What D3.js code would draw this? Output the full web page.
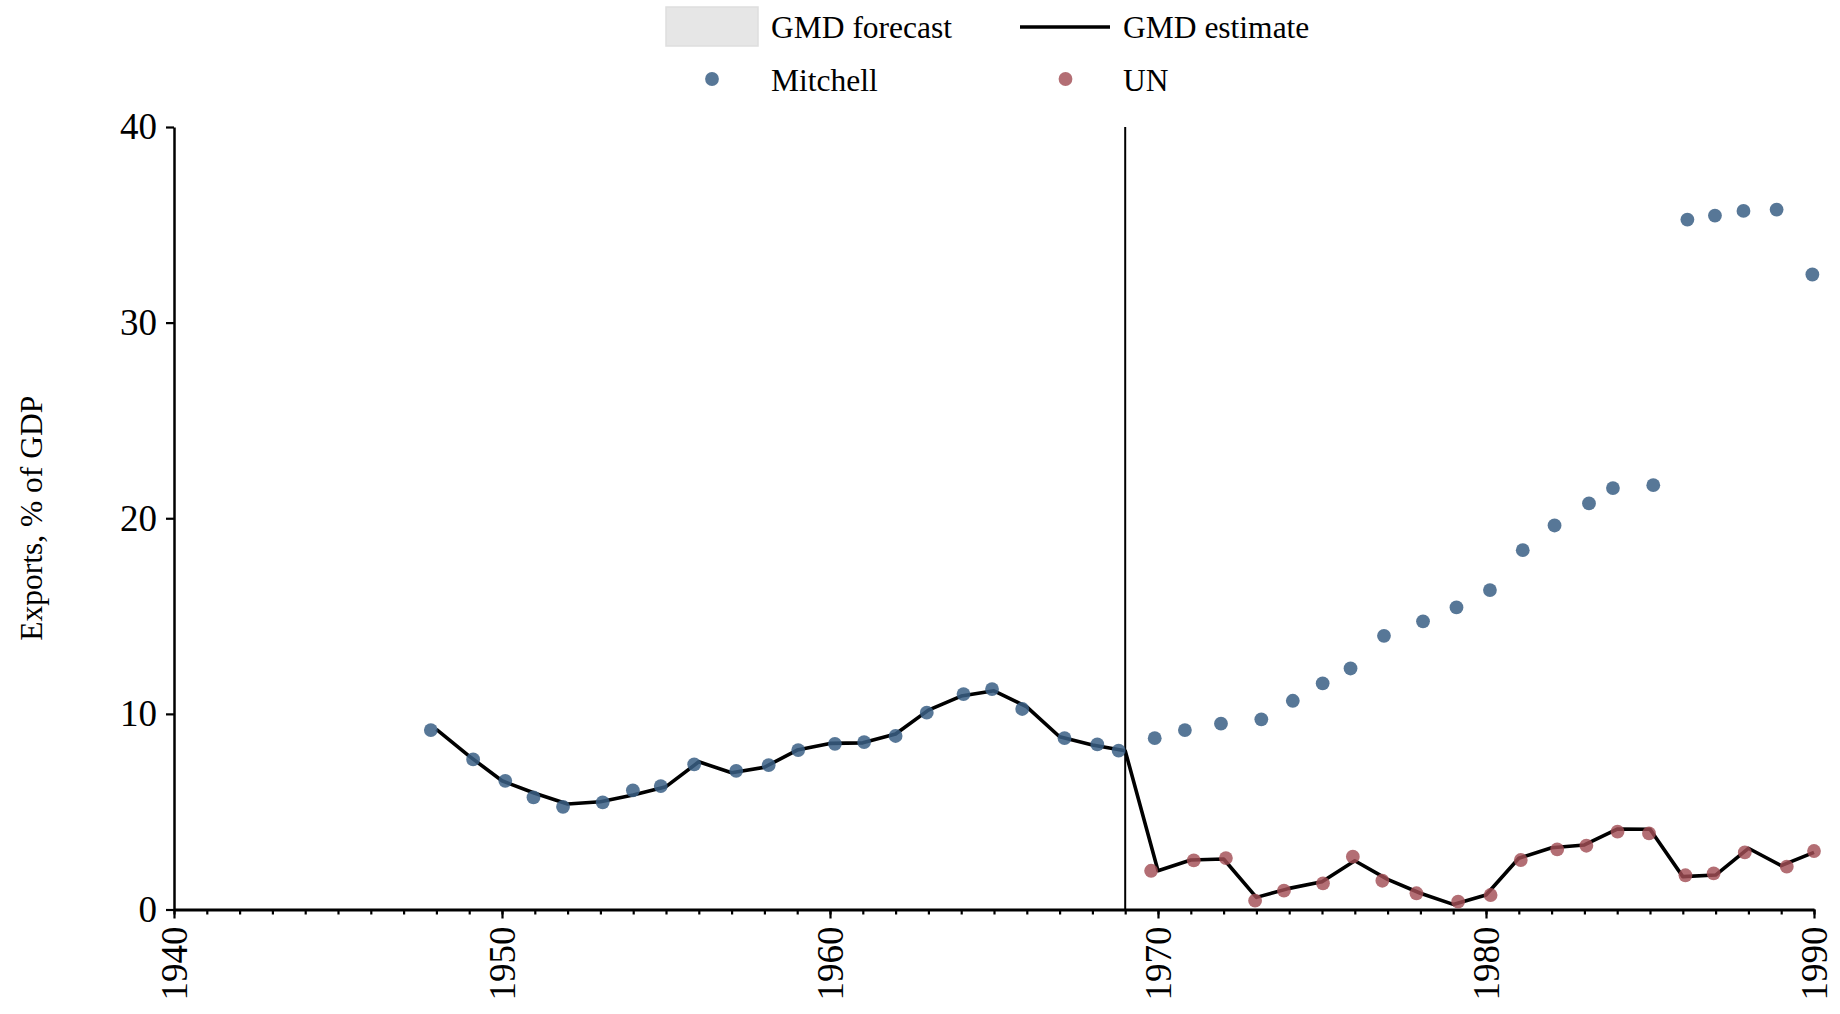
<!DOCTYPE html>
<html>
<head>
<meta charset="utf-8">
<script src="https://cdn.jsdelivr.net/npm/d3@7"></script>
<style>
  html, body { margin: 0; padding: 0; background: #fff; }
  svg { display: block; font-family: "Liberation Serif", "Times New Roman", serif; }
</style>
</head>
<body>
<svg id="chart" width="1840" height="1014"></svg>
<script>
// ---- Data ----
const estimateYears = [1948,1949,1950,1951,1952,1953,1954,1955,1956,1957,1958,1959,1960,1961,1962,1963,1964,1965,1966,1967,1968,1969,1970,1971,1972,1973,1974,1975,1976,1977,1978,1979,1980,1981,1982,1983,1984,1985,1986,1987,1988,1989,1990];
const gmdEstimate = [9.21,7.84,6.58,5.94,5.39,5.51,5.85,6.28,7.55,6.99,7.27,8.15,8.49,8.52,8.97,10.19,10.91,11.18,10.36,8.83,8.41,8.12,1.98,2.53,2.58,0.62,1.08,1.42,2.49,1.54,0.83,0.26,0.74,2.62,3.16,3.30,4.11,4.10,1.68,1.76,3.13,2.24,2.92];

const mitchellYears = [1947.83,1949.12,1950.10,1950.96,1951.86,1953.07,1953.99,1954.84,1955.86,1957.14,1958.13,1959.03,1960.15,1961.04,1962.00,1962.95,1964.07,1964.94,1965.86,1967.15,1968.15,1968.80,1969.90,1970.82,1971.92,1973.15,1974.11,1975.02,1975.87,1976.89,1978.08,1979.10,1980.12,1981.12,1982.09,1983.14,1983.87,1985.10,1986.14,1986.98,1987.85,1988.86,1989.95];
const mitchellValues = [9.17,7.67,6.58,5.73,5.25,5.48,6.09,6.31,7.42,7.09,7.38,8.15,8.47,8.56,8.87,10.06,11.01,11.27,10.25,8.76,8.44,8.12,8.76,9.17,9.50,9.72,10.67,11.56,12.32,13.99,14.73,15.44,16.33,18.37,19.63,20.76,21.54,21.69,35.27,35.47,35.71,35.78,32.46];

const unYears = [1969.79,1971.09,1972.07,1972.96,1973.84,1975.03,1975.94,1976.84,1977.88,1979.15,1980.14,1981.06,1982.17,1983.06,1984.01,1984.97,1986.08,1986.94,1987.89,1989.17,1990.00];
const unValues = [1.98,2.51,2.63,0.45,0.96,1.34,2.70,1.47,0.83,0.40,0.74,2.53,3.07,3.26,3.98,3.89,1.75,1.85,2.92,2.19,2.99];

const xTickValues = [1940,1950,1960,1970,1980,1990];
const xMinorTicks = [1940,1941,1942,1943,1944,1945,1946,1947,1948,1949,1950,1951,1952,1953,1954,1955,1956,1957,1958,1959,1960,1961,1962,1963,1964,1965,1966,1967,1968,1969,1970,1971,1972,1973,1974,1975,1976,1977,1978,1979,1980,1981,1982,1983,1984,1985,1986,1987,1988,1989,1990];
const yTickValues = [0,10,20,30,40];
const markerYear = 1969;
const legendLabels = ["GMD forecast","GMD estimate","Mitchell","UN"];
const yTitle = "Exports, % of GDP";

// ---- Styles ----
const blue = "rgb(58,95,133)";
const red = "rgb(162,78,86)";
const dotR = 6.9;

const svg = d3.select("#chart");
const x = d3.scaleLinear().domain([1940, 1990]).range([174, 1814]);
const y = d3.scaleLinear().domain([0, 40]).range([909.5, 127]);

// Y axis
const yAxis = svg.append("g")
  .attr("transform", `translate(${x(1940)},0)`)
  .call(d3.axisLeft(y).tickValues(yTickValues).tickSize(8).tickSizeOuter(0).tickPadding(9));
yAxis.select(".domain").attr("stroke", "#000").attr("stroke-width", 2.5);
yAxis.selectAll(".tick line").attr("stroke", "#000").attr("stroke-width", 2.2);
yAxis.selectAll(".tick text").attr("font-size", 37).attr("fill", "#000")
  .attr("font-family", "Liberation Serif");

// X axis minor ticks
const xMinor = svg.append("g")
  .attr("transform", `translate(0,${y(0)})`)
  .call(d3.axisBottom(x).tickValues(xMinorTicks).tickSize(5).tickSizeOuter(0).tickFormat(""));
xMinor.select(".domain").attr("stroke", "#000").attr("stroke-width", 2.8);
xMinor.selectAll(".tick line").attr("stroke", "#000").attr("stroke-width", 2.2);

// X axis major ticks
const xAxis = svg.append("g")
  .attr("transform", `translate(0,${y(0)})`)
  .call(d3.axisBottom(x).tickValues(xTickValues).tickSize(9).tickSizeOuter(0).tickFormat(d3.format("d")));
xAxis.select(".domain").remove();
xAxis.selectAll(".tick line").attr("stroke", "#000").attr("stroke-width", 2.2);
xAxis.selectAll(".tick text")
  .attr("font-size", 37).attr("fill", "#000").attr("font-family", "Liberation Serif")
  .attr("transform", "rotate(-90)")
  .attr("x", -17).attr("y", 0).attr("dy", "0.33em")
  .style("text-anchor", "end");

// Y axis title
svg.append("text")
  .attr("transform", `translate(42,${(y(0) + y(40)) / 2}) rotate(-90)`)
  .attr("text-anchor", "middle")
  .attr("font-size", 31.5)
  .attr("fill", "#000")
  .text(yTitle);

// Vertical marker line
svg.append("line")
  .attr("x1", x(markerYear)).attr("x2", x(markerYear))
  .attr("y1", y(0)).attr("y2", y(40))
  .attr("stroke", "#000").attr("stroke-width", 2);

// GMD estimate line
const estData = estimateYears.map((yr, i) => ({ yr, v: gmdEstimate[i] }));
svg.append("path")
  .datum(estData)
  .attr("fill", "none")
  .attr("stroke", "#000")
  .attr("stroke-width", 3.6)
  .attr("stroke-linejoin", "round")
  .attr("d", d3.line().x(d => x(d.yr)).y(d => y(d.v)));

// Mitchell dots
svg.append("g").selectAll("circle")
  .data(mitchellYears.map((yr, i) => ({ yr, v: mitchellValues[i] })))
  .join("circle")
  .attr("cx", d => x(d.yr)).attr("cy", d => y(d.v))
  .attr("r", dotR)
  .attr("fill", blue).attr("fill-opacity", 0.85);

// UN dots
svg.append("g").selectAll("circle")
  .data(unYears.map((yr, i) => ({ yr, v: unValues[i] })))
  .join("circle")
  .attr("cx", d => x(d.yr)).attr("cy", d => y(d.v))
  .attr("r", dotR)
  .attr("fill", red).attr("fill-opacity", 0.82);

// Legend
const leg = svg.append("g").attr("font-size", 31.5).attr("fill", "#000");
leg.append("rect").attr("x", 666).attr("y", 7).attr("width", 92).attr("height", 39)
  .attr("fill", "#e6e6e6").attr("stroke", "#dedede").attr("stroke-width", 1.5);
leg.append("text").attr("x", 771).attr("y", 27).attr("dy", "0.35em").text(legendLabels[0]);
leg.append("line").attr("x1", 1020).attr("x2", 1110).attr("y1", 27).attr("y2", 27)
  .attr("stroke", "#000").attr("stroke-width", 3.6);
leg.append("text").attr("x", 1123).attr("y", 27).attr("dy", "0.35em").text(legendLabels[1]);
leg.append("circle").attr("cx", 712).attr("cy", 79).attr("r", dotR)
  .attr("fill", blue).attr("fill-opacity", 0.85);
leg.append("text").attr("x", 771).attr("y", 80).attr("dy", "0.35em").text(legendLabels[2]);
leg.append("circle").attr("cx", 1065.5).attr("cy", 79).attr("r", dotR)
  .attr("fill", red).attr("fill-opacity", 0.82);
leg.append("text").attr("x", 1123).attr("y", 80).attr("dy", "0.35em").text(legendLabels[3]);
</script>
</body>
</html>
